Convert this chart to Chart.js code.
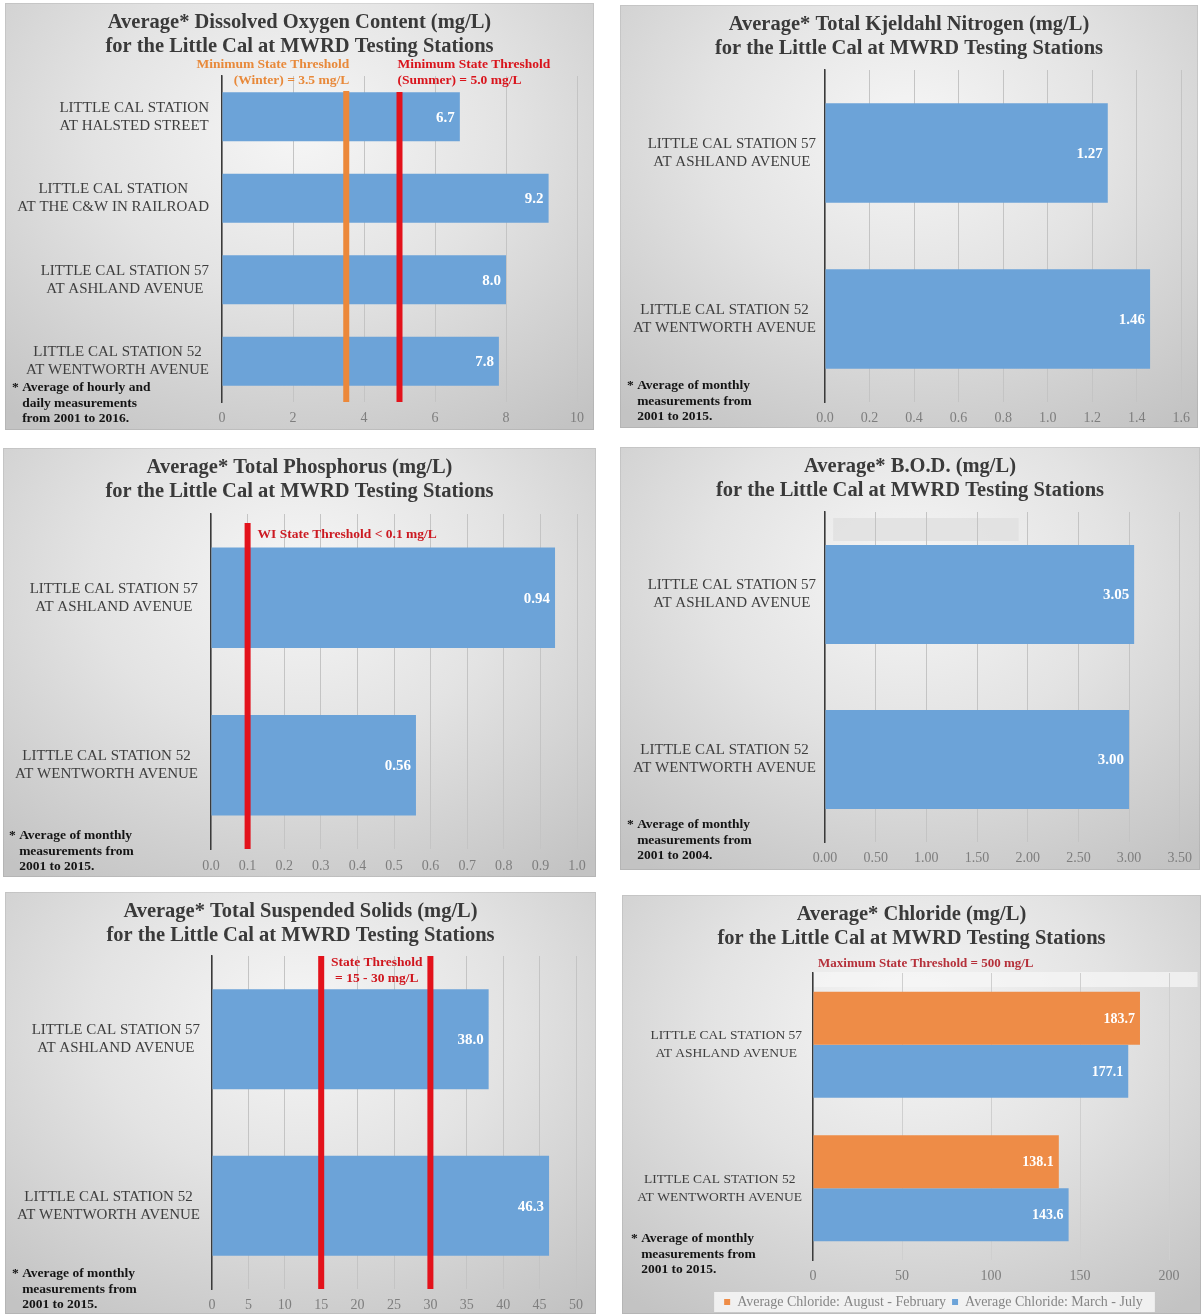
<!DOCTYPE html>
<html>
<head>
<meta charset="utf-8">
<script src="https://cdn.jsdelivr.net/npm/chart.js@4.4.1/dist/chart.umd.min.js"></script>
<style>
  body { margin: 0; background: #fff; width: 1201px; height: 1314px; position: relative; overflow: hidden; }
  .panel {
    position: absolute;
    background: radial-gradient(ellipse 78% 85% at 50% 30%, #f6f6f6 0%, #e3e3e3 45%, #c3c3c3 100%);
    box-shadow: inset 0 0 0 1px rgba(0,0,0,0.07);
  }
  .panel canvas { display: block; }
</style>
</head>
<body>
<div class="panel" style="left:5px;top:3px;width:589px;height:427px"><canvas id="oxygen" width="589" height="427"></canvas></div>
<div class="panel" style="left:620px;top:5px;width:578px;height:423px"><canvas id="nitrogen" width="578" height="423"></canvas></div>
<div class="panel" style="left:3px;top:448px;width:593px;height:429px"><canvas id="phosphorus" width="593" height="429"></canvas></div>
<div class="panel" style="left:620px;top:447px;width:580px;height:423px"><canvas id="bod" width="580" height="423"></canvas></div>
<div class="panel" style="left:5px;top:892px;width:591px;height:422px"><canvas id="solids" width="591" height="422"></canvas></div>
<div class="panel" style="left:622px;top:895px;width:579px;height:419px"><canvas id="chloride" width="579" height="424"></canvas></div>

<script>
const serif = '"Liberation Serif", "Times New Roman", serif';

// --- data ---
const oxygenStations = [
  ['LITTLE CAL STATION', 'AT HALSTED STREET'],
  ['LITTLE CAL STATION', 'AT THE C&W IN RAILROAD'],
  ['LITTLE CAL STATION 57', 'AT ASHLAND AVENUE'],
  ['LITTLE CAL STATION 52', 'AT WENTWORTH AVENUE']
];
const oxygenValues = [6.7, 9.2, 8.0, 7.8];
const oxygenTicks = ['0', '2', '4', '6', '8', '10'];
const oxygenThresholds = [3.5, 5.0];

const stations = [
  ['LITTLE CAL STATION 57', 'AT ASHLAND AVENUE'],
  ['LITTLE CAL STATION 52', 'AT WENTWORTH AVENUE']
];

const nitrogenValues = [1.27, 1.46];
const nitrogenTicks = ['0.0', '0.2', '0.4', '0.6', '0.8', '1.0', '1.2', '1.4', '1.6'];

const phosphorusValues = [0.94, 0.56];
const phosphorusTicks = ['0.0', '0.1', '0.2', '0.3', '0.4', '0.5', '0.6', '0.7', '0.8', '0.9', '1.0'];
const phosphorusThreshold = 0.1;

const bodValues = [3.05, 3.00];
const bodTicks = ['0.00', '0.50', '1.00', '1.50', '2.00', '2.50', '3.00', '3.50'];

const solidsValues = [38.0, 46.3];
const solidsTicks = ['0', '5', '10', '15', '20', '25', '30', '35', '40', '45', '50'];
const solidsThresholds = [15, 30];

const chlorideSeries = ['Average Chloride: August - February', 'Average Chloride: March - July'];
const chlorideWinter = [183.7, 138.1];
const chlorideSummer = [177.1, 143.6];
const chlorideTicks = ['0', '50', '100', '150', '200'];

const BLUE = '#6ca3d8';
const ORANGE = '#ee8c47';
const RED = '#e3121b';
const SUBTITLE = 'for the Little Cal at MWRD Testing Stations';

// --- drawing of texts, threshold lines and labels ---
const overlay = {
  id: 'overlay',
  beforeDraw(chart, args, o) {
    const { ctx, chartArea: a, scales: { x } } = chart;
    (o.boxes || []).forEach(b => {
      const x0 = x.getPixelForValue(b.from), x1 = x.getPixelForValue(b.to);
      ctx.fillStyle = b.color;
      ctx.fillRect(x0, a.top + b.top, x1 - x0, b.height);
    });
    if (o.legendBox && chart.legend && chart.legend.legendHitBoxes.length) {
      const hb = chart.legend.legendHitBoxes;
      const f = hb[0], l = hb[hb.length - 1];
      ctx.fillStyle = 'rgba(250,250,250,0.8)';
      ctx.fillRect(f.left - 10, f.top - 3, l.left + l.width - f.left + 22, f.height + 6);
    }
  },
  afterDatasetsDraw(chart, args, o) {
    const { ctx, chartArea: a, scales: { x, y } } = chart;
    ctx.save();
    (o.lines || []).forEach(l => {
      const px = x.getPixelForValue(l.value);
      ctx.fillStyle = l.color;
      ctx.fillRect(px - l.width / 2, a.top + l.from, l.width, a.bottom - a.top - l.from);
    });

    // value labels inside the bars
    ctx.font = `bold ${o.valueSize || 15}px ${serif}`;
    ctx.fillStyle = '#ffffff';
    ctx.textAlign = 'right';
    ctx.textBaseline = 'middle';
    chart.data.datasets.forEach((ds, d) => {
      chart.getDatasetMeta(d).data.forEach((bar, i) => {
        ctx.fillText(ds.data[i].toFixed(o.decimals), bar.x - 5, bar.y + 1);
      });
    });

    // station names
    ctx.font = `${o.labelSize || 15}px ${serif}`;
    ctx.fillStyle = '#3e3e3e';
    ctx.textAlign = 'center';
    chart.data.labels.forEach((lines, i) => {
      const cy = y.getPixelForValue(i);
      const w = Math.max(...lines.map(t => ctx.measureText(t).width));
      const cx = a.left - o.labelGap - w / 2;
      lines.forEach((t, k) => ctx.fillText(t, cx, cy + (k - (lines.length - 1) / 2) * 18));
    });

    // threshold captions
    (o.texts || []).forEach(t => {
      ctx.font = `bold ${t.size}px ${serif}`;
      ctx.fillStyle = t.color;
      ctx.textAlign = t.align;
      const px = x.getPixelForValue(t.value) + t.dx;
      t.lines.forEach((s, k) => ctx.fillText(s, px, t.y + k * 16));
    });

    // title
    ctx.font = `bold 20.5px ${serif}`;
    ctx.fillStyle = '#3a3a3a';
    ctx.textAlign = 'center';
    o.title.forEach((s, k) => ctx.fillText(s, chart.width / 2, 20 + k * 23.5));

    // footnote
    ctx.font = `bold 13.5px ${serif}`;
    ctx.fillStyle = '#141414';
    ctx.textAlign = 'left';
    const indent = ctx.measureText('* ').width;
    o.note.lines.forEach((s, k) => ctx.fillText(s, o.note.x + (k ? indent : 0), o.note.y + k * 15.5));
    ctx.restore();
  }
};

function makeChart(id, c) {
  return new Chart(document.getElementById(id), {
    type: 'bar',
    data: { labels: c.labels, datasets: c.datasets },
    options: {
      indexAxis: 'y',
      responsive: false,
      animation: false,
      devicePixelRatio: 1,
      layout: { padding: { left: c.padLeft || 0, right: c.padRight, top: c.padTop, bottom: 0 } },
      datasets: { bar: { categoryPercentage: c.cat || 1, barPercentage: c.bar || 0.6 } },
      plugins: {
        legend: c.legend || { display: false },
        tooltip: { enabled: false },
        title: { display: false },
        overlay: c.overlay
      },
      scales: {
        x: {
          min: parseFloat(c.ticks[0]),
          max: parseFloat(c.ticks[c.ticks.length - 1]),
          afterBuildTicks: s => { s.ticks = c.ticks.map(t => ({ value: parseFloat(t) })); },
          afterFit: s => { s.height = c.xHeight; },
          ticks: {
            callback: (v, i) => c.ticks[i],
            color: '#7e7e7e',
            font: { family: serif, size: 14 },
            padding: c.tickPad,
            maxRotation: 0,
            autoSkip: false
          },
          grid: { color: c.gridColor || '#c4c4c4', drawTicks: false },
          border: { display: false }
        },
        y: {
          afterFit: s => { s.width = c.yWidth; },
          ticks: { display: false },
          grid: { display: false },
          border: { color: '#3a3a3a', width: 1.5 }
        }
      }
    },
    plugins: [overlay]
  });
}

makeChart('oxygen', {
  labels: oxygenStations,
  datasets: [{ data: oxygenValues, backgroundColor: BLUE }],
  ticks: oxygenTicks,
  padTop: 73, padRight: 17, yWidth: 217, xHeight: 28, tickPad: 8,
  overlay: {
    title: ['Average* Dissolved Oxygen Content (mg/L)', SUBTITLE],
    decimals: 1, labelGap: 13,
    lines: [
      { value: oxygenThresholds[0], color: '#ec883a', width: 6, from: 15 },
      { value: oxygenThresholds[1], color: RED, width: 6, from: 16 }
    ],
    texts: [
      { value: oxygenThresholds[0], dx: 3, align: 'right', y: 62, size: 13.5, color: '#e8893a',
        lines: ['Minimum State Threshold', '(Winter) = 3.5 mg/L'] },
      { value: oxygenThresholds[1], dx: -2, align: 'left', y: 62, size: 13.5, color: '#d9141c',
        lines: ['Minimum State Threshold', '(Summer) = 5.0 mg/L'] }
    ],
    note: { x: 7, y: 385, lines: ['* Average of hourly and', 'daily measurements', 'from 2001 to 2016.'] }
  }
});

makeChart('nitrogen', {
  labels: stations,
  datasets: [{ data: nitrogenValues, backgroundColor: BLUE }],
  ticks: nitrogenTicks,
  padTop: 65, padRight: 13, yWidth: 205, xHeight: 26, tickPad: 8,
  overlay: {
    title: ['Average* Total Kjeldahl Nitrogen (mg/L)', SUBTITLE],
    decimals: 2, labelGap: 9,
    note: { x: 7, y: 381, lines: ['* Average of monthly', 'measurements from', '2001 to 2015.'] }
  }
});

makeChart('phosphorus', {
  labels: stations,
  datasets: [{ data: phosphorusValues, backgroundColor: BLUE }],
  ticks: phosphorusTicks,
  padTop: 66, padRight: 19, yWidth: 208, xHeight: 28, tickPad: 9,
  overlay: {
    title: ['Average* Total Phosphorus (mg/L)', SUBTITLE],
    decimals: 2, labelGap: 13,
    lines: [{ value: phosphorusThreshold, color: RED, width: 6, from: 9 }],
    texts: [{ value: phosphorusThreshold, dx: 10, align: 'left', y: 87, size: 13.5, color: '#cc1a22',
      lines: ['WI State Threshold < 0.1 mg/L'] }],
    note: { x: 6, y: 388, lines: ['* Average of monthly', 'measurements from', '2001 to 2015.'] }
  }
});

makeChart('bod', {
  labels: stations,
  datasets: [{ data: bodValues, backgroundColor: BLUE }],
  ticks: bodTicks,
  padTop: 65, padRight: 18, yWidth: 205, xHeight: 28, tickPad: 8,
  overlay: {
    title: ['Average* B.O.D. (mg/L)', SUBTITLE],
    decimals: 2, labelGap: 9,
    boxes: [{ from: 0.08, to: 1.91, top: 6, height: 23, color: 'rgba(226,226,226,0.95)' }],
    note: { x: 7, y: 378, lines: ['* Average of monthly', 'measurements from', '2001 to 2004.'] }
  }
});

makeChart('solids', {
  labels: stations,
  datasets: [{ data: solidsValues, backgroundColor: BLUE }],
  ticks: solidsTicks,
  padTop: 64, padRight: 20, yWidth: 207, xHeight: 25, tickPad: 8,
  overlay: {
    title: ['Average* Total Suspended Solids (mg/L)', SUBTITLE],
    decimals: 1, labelGap: 12,
    lines: [
      { value: solidsThresholds[0], color: RED, width: 6, from: 0 },
      { value: solidsThresholds[1], color: RED, width: 6, from: 0 }
    ],
    texts: [{ value: (solidsThresholds[0] + solidsThresholds[1]) / 2, dx: 1, align: 'center', y: 71, size: 13.5,
      color: '#d0161e', lines: ['State Threshold', '= 15 - 30 mg/L'] }],
    note: { x: 7, y: 382, lines: ['* Average of monthly', 'measurements from', '2001 to 2015.'] }
  }
});

makeChart('chloride', {
  labels: stations,
  datasets: [
    { label: chlorideSeries[0], data: chlorideWinter, backgroundColor: ORANGE },
    { label: chlorideSeries[1], data: chlorideSummer, backgroundColor: BLUE }
  ],
  ticks: chlorideTicks,
  cat: 0.74, bar: 1,
  padTop: 78, padLeft: 76, padRight: 32, yWidth: 115, xHeight: 29, tickPad: 8,
  gridColor: '#cfcfcf',
  legend: {
    display: true,
    position: 'bottom',
    labels: {
      usePointStyle: true, pointStyle: 'rect', boxWidth: 6, boxHeight: 6, padding: 6,
      color: '#858585', font: { family: serif, size: 14 }
    }
  },
  overlay: {
    title: ['Average* Chloride (mg/L)', SUBTITLE],
    decimals: 1, labelGap: 11, labelSize: 13.5, valueSize: 14, legendBox: true,
    boxes: [{ from: 0, to: 216, top: -1, height: 15, color: 'rgba(246,246,246,0.75)' }],
    texts: [{ value: 0, dx: 5, align: 'left', y: 69, size: 13, color: '#b5303a',
      lines: ['Maximum State Threshold = 500 mg/L'] }],
    note: { x: 9, y: 344, lines: ['* Average of monthly', 'measurements from', '2001 to 2015.'] }
  }
});
</script>
</body>
</html>
